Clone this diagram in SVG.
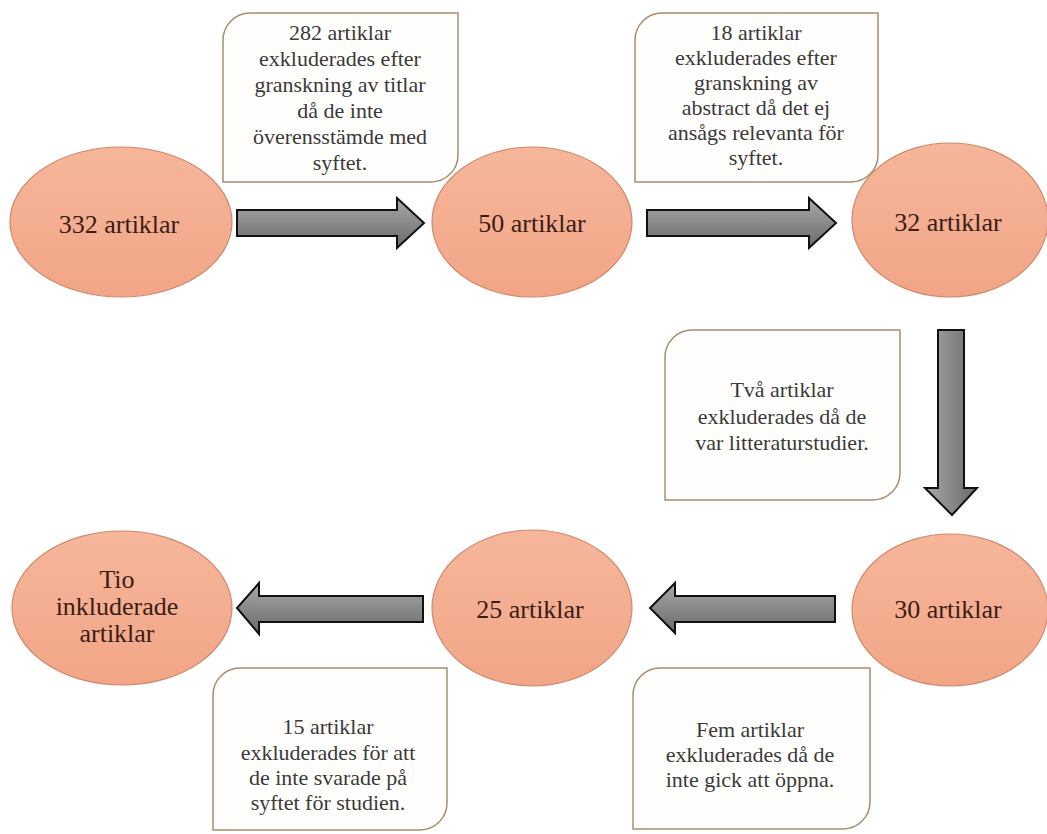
<svg xmlns="http://www.w3.org/2000/svg" width="1047" height="834" viewBox="0 0 1047 834">
<defs>
<linearGradient id="eg" x1="0" y1="0" x2="0" y2="1">
<stop offset="0" stop-color="#f6b69a"/>
<stop offset="1" stop-color="#f2a587"/>
</linearGradient>
<linearGradient id="agh" x1="0" y1="0" x2="0" y2="1">
<stop offset="0" stop-color="#a8a8a8"/>
<stop offset="1" stop-color="#6a6a6a"/>
</linearGradient>
<linearGradient id="agv" x1="0" y1="0" x2="1" y2="0">
<stop offset="0" stop-color="#a8a8a8"/>
<stop offset="1" stop-color="#6a6a6a"/>
</linearGradient>
<style>
.ell{fill:url(#eg);stroke:#cf8a6c;stroke-width:1.2}
.et{font-family:'Liberation Serif','Times New Roman',serif;font-size:26px;fill:#3b1d14;text-anchor:middle}
.box{fill:#fffefc;stroke:#a88e6c;stroke-width:1.5}
.bt{font-family:'Liberation Serif','Times New Roman',serif;font-size:22px;fill:#3a3a3a;text-anchor:middle}
.arh{fill:url(#agh);stroke:#111;stroke-width:2;stroke-linejoin:miter}
.arv{fill:url(#agv);stroke:#111;stroke-width:2;stroke-linejoin:miter}
</style>
</defs>
<rect width="1047" height="834" fill="#ffffff"/>

<g id="connectors">
<path class="arh" d="M237 210 H397 V198 L424 223 L397 248 V236 H237 Z"/>
<path class="arh" d="M647 210 H809 V198 L836 223 L809 248 V236 H647 Z"/>
<path class="arv" d="M938 330 H964 V488 H977 L952 515 L925 488 H938 Z"/>
<path class="arh" d="M835 596 H675 V583 L650 608 L675 633 V622 H835 Z"/>
<path class="arh" d="M423 596 H259 V583 L237 608 L259 634 V622 H423 Z"/>
</g>

<g id="n332">
<ellipse class="ell" cx="121" cy="222" rx="111" ry="75"/>
<text class="et" x="119" y="233">332 artiklar</text>
</g>
<g id="n50">
<ellipse class="ell" cx="532" cy="222" rx="100" ry="75"/>
<text class="et" x="532" y="232">50 artiklar</text>
</g>
<g id="n32">
<ellipse class="ell" cx="950" cy="220" rx="98" ry="77"/>
<text class="et" x="948" y="231">32 artiklar</text>
</g>
<g id="n30">
<ellipse class="ell" cx="950" cy="610" rx="98" ry="76"/>
<text class="et" x="948" y="618">30 artiklar</text>
</g>
<g id="n25">
<ellipse class="ell" cx="532" cy="608" rx="100" ry="78"/>
<text class="et" x="530" y="618">25 artiklar</text>
</g>
<g id="ntio">
<ellipse class="ell" cx="122" cy="608" rx="110" ry="77"/>
<text class="et" x="117" y="588">Tio</text>
<text class="et" x="117" y="615">inkluderade</text>
<text class="et" x="117" y="642">artiklar</text>
</g>

<g id="box1">
<path class="box" d="M250 13 H458 V155 A27 27 0 0 1 431 182 H223 V40 A27 27 0 0 1 250 13 Z"/>
<text class="bt" x="340" y="40">282 artiklar</text>
<text class="bt" x="340" y="66">exkluderades efter</text>
<text class="bt" x="340" y="92">granskning av titlar</text>
<text class="bt" x="340" y="118">då de inte</text>
<text class="bt" x="340" y="144">överensstämde med</text>
<text class="bt" x="340" y="170">syftet.</text>
</g>
<g id="box2">
<path class="box" d="M662 13 H878 V155 A27 27 0 0 1 851 182 H635 V40 A27 27 0 0 1 662 13 Z"/>
<text class="bt" x="756" y="40">18 artiklar</text>
<text class="bt" x="756" y="65">exkluderades efter</text>
<text class="bt" x="756" y="90">granskning av</text>
<text class="bt" x="756" y="115">abstract då det ej</text>
<text class="bt" x="756" y="140">ansågs relevanta för</text>
<text class="bt" x="756" y="165">syftet.</text>
</g>
<g id="box3">
<path class="box" d="M692 330 H900 V473 A27 27 0 0 1 873 500 H665 V357 A27 27 0 0 1 692 330 Z"/>
<text class="bt" x="782" y="397">Två artiklar</text>
<text class="bt" x="782" y="424">exkluderades då de</text>
<text class="bt" x="782" y="450">var litteraturstudier.</text>
</g>
<g id="box4">
<path class="box" d="M240 668 H447 V803 A27 27 0 0 1 420 830 H213 V695 A27 27 0 0 1 240 668 Z"/>
<text class="bt" x="328" y="734">15 artiklar</text>
<text class="bt" x="328" y="760">exkluderades för att</text>
<text class="bt" x="328" y="785">de inte svarade på</text>
<text class="bt" x="328" y="810">syftet för studien.</text>
</g>
<g id="box5">
<path class="box" d="M660 668 H870 V802 A27 27 0 0 1 843 829 H633 V695 A27 27 0 0 1 660 668 Z"/>
<text class="bt" x="750" y="737">Fem artiklar</text>
<text class="bt" x="750" y="762">exkluderades då de</text>
<text class="bt" x="750" y="787">inte gick att öppna.</text>
</g>
</svg>
